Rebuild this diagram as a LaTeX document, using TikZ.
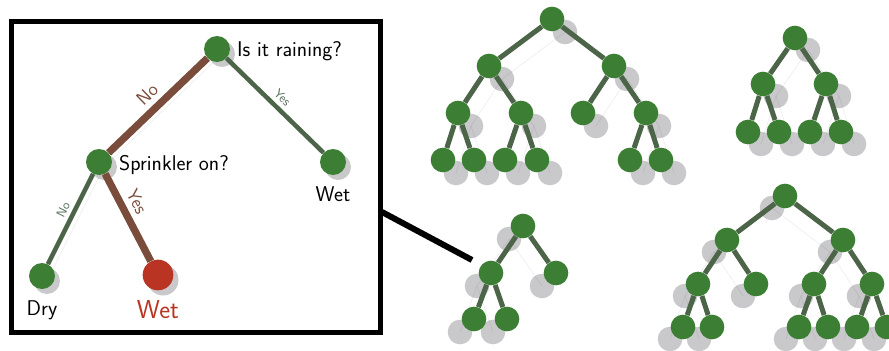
\documentclass[tikz,border=0pt]{standalone}
\usepackage{fontspec}
\usepackage{tikz}
\usetikzlibrary{positioning,backgrounds}

\definecolor{leafgreen}{RGB}{59,126,52}
\definecolor{branchgreen}{RGB}{76,100,72}
\definecolor{labelgreen}{RGB}{84,112,88}
\definecolor{pathbrown}{RGB}{122,76,60}
\definecolor{wetred}{RGB}{185,52,34}
\definecolor{shadowgrey}{RGB}{201,201,204}

\begin{document}
\begin{tikzpicture}[x=0.75pt,y=-0.75pt,
	dot/.style={shape=circle,fill=leafgreen,inner sep=0pt,minimum size=18.5pt},
	bigdot/.style={dot,minimum size=19.5pt},
	reddot/.style={dot,fill=wetred,minimum size=23pt},
	branch/.style={draw=branchgreen,line width=3.75pt},
	sidebranch/.style={draw=branchgreen,line width=3.4pt},
	mainbranch/.style={draw=pathbrown,line width=5.5pt},
	shade/.style={fill=shadowgrey},
	shadeline/.style={draw=black,opacity=0.06,line width=0.6pt},
	question/.style={font=\sffamily\fontsize{16}{19}\selectfont,inner sep=4pt},
	choicebig/.style={font=\sffamily\fontsize{14}{16}\selectfont,text=pathbrown,inner sep=4pt},
	choicesmall/.style={font=\sffamily\fontsize{9.5}{11}\selectfont,text=labelgreen,inner sep=3pt}]

	\useasboundingbox (0,0) rectangle (889,350);

	% zoomed panel
	\draw[line width=3.75pt] (11.5,21) rectangle (380,332);

	\node[bigdot] (rain) at (217,49) {};
	\node[bigdot] (sprinkler) at (99,162) {};
	\node[bigdot] (wetrain) at (333,162) {};
	\node[bigdot] (dry) at (42,276) {};
	\node[reddot] (wetsprinkler) at (158,275) {};

	\begin{scope}[on background layer]
		\foreach \nm in {rain,sprinkler,wetrain,dry}
			\fill[shade] ([shift={(5,5)}]\nm.center) circle (13);
		\fill[shade] ([shift={(5,5)}]wetsprinkler.center) circle (15.5);
		\draw[shadeline] ([shift={(5,5)}]rain.center) -- ([shift={(5,5)}]sprinkler.center);
		\draw[shadeline] ([shift={(5,5)}]rain.center) -- ([shift={(5,5)}]wetrain.center);
		\draw[shadeline] ([shift={(5,5)}]sprinkler.center) -- ([shift={(5,5)}]dry.center);
		\draw[shadeline] ([shift={(5,5)}]sprinkler.center) -- ([shift={(5,5)}]wetsprinkler.center);
	\end{scope}

	\path[mainbranch] (rain) -- node[choicebig,above,sloped] {No} (sprinkler);
	\path[sidebranch] (rain) -- node[choicesmall,above,sloped] {Yes} (wetrain);
	\path[sidebranch] (sprinkler) -- node[choicesmall,above,sloped,pos=0.45] {No} (dry);
	\path[mainbranch] (sprinkler) -- node[choicebig,above,sloped,pos=0.4,font=\sffamily\fontsize{13.5}{16}\selectfont] {Yes} (wetsprinkler);

	\node[question,right=1pt of rain,yshift=-2pt] (rainq) {Is it raining?};
	\node[question,right=1pt of sprinkler,yshift=-2pt] (sprinklerq) {Sprinkler on?};
	\node[question,below=4pt of wetrain] (wetrainq) {Wet};
	\node[question,below=4pt of dry] (dryq) {Dry};
	\node[question,below=3pt of wetsprinkler,text=wetred,font=\sffamily\fontsize{19.5}{22}\selectfont] (wetsprinklerq) {Wet};

	\coordinate (lens) at (382,212);
	\coordinate (zoomtip) at (472,260);
	\draw[line width=4.5pt] (lens) -- (zoomtip);

	% top middle tree
	\foreach \nm/\px/\py in {a0/552/19, a1/489/66, a2/614/66, a3/458/113, a4/521/113, a5/583/113, a6/646/113,
		a7/443/160, a8/474/160, a9/505/160, a10/537/160, a11/630/160, a12/661/160}{
		\node[dot] (\nm) at (\px,\py) {};
		\begin{scope}[on background layer]
			\fill[shade] (\px+13,\py+13) circle (12.3);
		\end{scope}
	}
	\foreach \up/\down in {a0/a1, a0/a2, a1/a3, a1/a4, a2/a5, a2/a6, a3/a7, a3/a8, a4/a9, a4/a10, a6/a11, a6/a12}{
		\draw[branch] (\up) -- (\down);
		\begin{scope}[on background layer]
			\draw[shadeline] ([shift={(13,13)}]\up.center) -- ([shift={(13,13)}]\down.center);
		\end{scope}
	}

	% top right tree
	\foreach \nm/\px/\py in {b0/795/38, b1/763/84, b2/826/84, b3/748/132, b4/779/132, b5/810/132, b6/841/132}{
		\node[dot] (\nm) at (\px,\py) {};
		\begin{scope}[on background layer]
			\fill[shade] (\px+13,\py+12) circle (12.3);
		\end{scope}
	}
	\foreach \up/\down in {b0/b1, b0/b2, b1/b3, b1/b4, b2/b5, b2/b6}{
		\draw[branch] (\up) -- (\down);
		\begin{scope}[on background layer]
			\draw[shadeline] ([shift={(13,12)}]\up.center) -- ([shift={(13,12)}]\down.center);
		\end{scope}
	}

	% bottom left tree
	\foreach \nm/\px/\py in {c0/523/226, c1/491/273, c2/556/273, c3/474/319, c4/507/319}{
		\node[dot] (\nm) at (\px,\py) {};
		\begin{scope}[on background layer]
			\fill[shade] (\px-14,\py+13) circle (12.3);
		\end{scope}
	}
	\foreach \up/\down in {c0/c1, c0/c2, c1/c3, c1/c4}{
		\draw[branch] (\up) -- (\down);
		\begin{scope}[on background layer]
			\draw[shadeline] ([shift={(-14,13)}]\up.center) -- ([shift={(-14,13)}]\down.center);
		\end{scope}
	}

	% bottom right tree
	\foreach \nm/\px/\py in {d0/785/196, d1/727/240, d2/843/240, d3/698/284, d4/756/284, d5/814/284, d6/872/284,
		d7/683/327, d8/712/327, d9/799/327, d10/828/327, d11/857/327, d12/887/327}{
		\node[dot] (\nm) at (\px,\py) {};
		\begin{scope}[on background layer]
			\fill[shade] (\px-13,\py+12) circle (12.3);
		\end{scope}
	}
	\foreach \up/\down in {d0/d1, d0/d2, d1/d3, d1/d4, d2/d5, d2/d6, d3/d7, d3/d8, d5/d9, d5/d10, d6/d11, d6/d12}{
		\draw[branch] (\up) -- (\down);
		\begin{scope}[on background layer]
			\draw[shadeline] ([shift={(-13,12)}]\up.center) -- ([shift={(-13,12)}]\down.center);
		\end{scope}
	}
\end{tikzpicture}
\end{document}
